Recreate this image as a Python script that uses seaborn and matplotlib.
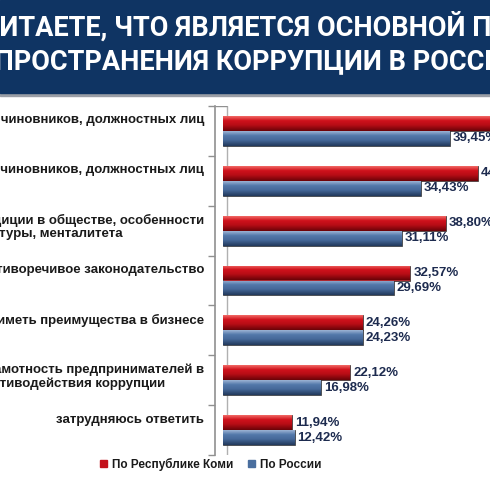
import matplotlib.pyplot as plt
import matplotlib.patches as mpatches
from matplotlib.colors import LinearSegmentedColormap
import numpy as np
import pandas as pd
import seaborn as sns

# data
categories = ['Безнаказанность чиновников, должностных лиц',
              'Жадность чиновников, должностных лиц',
              'Традиции в обществе, особенности\nкультуры, менталитета',
              'Противоречивое законодательство',
              'Желание иметь преимущества в бизнесе',
              'Низкая грамотность предпринимателей в\nсфере противодействия коррупции',
              'затрудняюсь ответить']
komi = [48.10, 44.30, 38.80, 32.57, 24.26, 22.12, 11.94]
russia = [39.45, 34.43, 31.11, 29.69, 24.23, 16.98, 12.42]
series = ['По Республике Коми', 'По России']
title_lines = ['КАК ВЫ СЧИТАЕТЕ, ЧТО ЯВЛЯЕТСЯ ОСНОВНОЙ ПРИЧИНОЙ',
               'РАСПРОСТРАНЕНИЯ КОРРУПЦИИ В РОССИИ?']

df = pd.DataFrame({
    'cat': categories * 2,
    'val': komi + russia,
    'src': [series[0]] * len(categories) + [series[1]] * len(categories),
})

sns.set_style('white')
plt.rcParams['font.family'] = ['Liberation Sans', 'DejaVu Sans']

red = '#c3111b'
blue = '#4a6e9e'
navy = '#1d2b4f'
# cylinder shading, top -> bottom
shades = {
    red: ['#f26a66', '#d0121c', '#b80d16', '#6a0308'],
    blue: ['#9cb3d4', '#5378aa', '#46699a', '#22395c'],
}

fig = plt.figure(figsize=(4.9, 4.9), dpi=100)
fig.patch.set_facecolor('white')

# title band
fig.patches.append(mpatches.Rectangle((0, 1 - 96 / 490), 1, 96 / 490, transform=fig.transFigure,
                                      color='#9a9ea6', zorder=0))
fig.patches.append(mpatches.Rectangle((0, 1 - 93 / 490), 1, 93 / 490, transform=fig.transFigure,
                                      color='#0f3463', zorder=0))
for i, line in enumerate(title_lines):
    fig.text(0.487, 1 - (27 + 35 * i) / 490, line, color='white', fontsize=19.5, fontweight='bold',
             ha='center', va='center', family=['Liberation Sans Narrow', 'Roboto', 'DejaVu Sans'])

ax = fig.add_axes([215 / 490, 35 / 490, 275 / 490, 349 / 490])
sns.barplot(data=df, x='val', y='cat', hue='src', order=categories, hue_order=series,
            palette=[red, blue], width=0.6, orient='h', ax=ax,
            edgecolor='#2a2a2a', linewidth=0.5, legend=False, zorder=3)

xlim, ylim = (-1.48, 46.43), (6.5, -0.5)

# gradient fill inside each bar
for cont, col in zip(ax.containers, [red, blue]):
    cmap = LinearSegmentedColormap.from_list('c', list(zip([0, 0.3, 0.6, 1], shades[col])))
    for patch in cont:
        bb = patch.get_bbox()
        im = ax.imshow(np.linspace(0, 1, 64).reshape(-1, 1), cmap=cmap, aspect='auto',
                       extent=[bb.x0, bb.x1, max(bb.y0, bb.y1), min(bb.y0, bb.y1)],
                       origin='upper', zorder=3.5, interpolation='bilinear')
        im.set_clip_path(patch)

ax.set_xlim(*xlim)
ax.set_ylim(*ylim)
ax.axvline(0.6, color='#b0b0b0', lw=1, zorder=1)
ax.hlines(ylim[1], xlim[0], 0.6, color='#909090', lw=1, zorder=1)

for cont, vals in zip(ax.containers, [komi, russia]):
    ax.bar_label(cont, labels=[f'{v:.2f}'.replace('.', ',') + '%' for v in vals], padding=2,
                 color=navy, fontsize=9.5, fontweight='bold')

# category labels
n = len(categories)
ax.set_yticks(np.arange(n) - 0.33, categories, va='top')
ax.set_yticks(np.arange(n + 1) - 0.5, minor=True)
ax.tick_params(axis='y', which='major', length=0, pad=8, labelsize=9.5, labelcolor='#1a1a1a')
ax.tick_params(axis='y', which='minor', length=5, width=1, color='#909090', left=True)
for t in ax.get_yticklabels():
    t.set_fontweight('bold')
    t.set_linespacing(1.1)
    t.set_multialignment('left')
ax.set_xticks([])
ax.set_xlabel('')
ax.set_ylabel('')
for s in ['top', 'right', 'bottom']:
    ax.spines[s].set_visible(False)
ax.spines['left'].set_color('#909090')
ax.spines['left'].set_linewidth(1.2)

handles = [mpatches.Patch(color=red), mpatches.Patch(color=blue)]
fig.legend(handles, series, loc='center', bbox_to_anchor=(0.43, 0.052), ncol=2, frameon=False,
           handlelength=0.55, handleheight=0.55, handletextpad=0.4, columnspacing=1.3,
           prop={'size': 8.5, 'weight': 'bold'}, labelcolor='#1a1a1a')

fig.savefig('out.png', dpi=100, facecolor='white')
